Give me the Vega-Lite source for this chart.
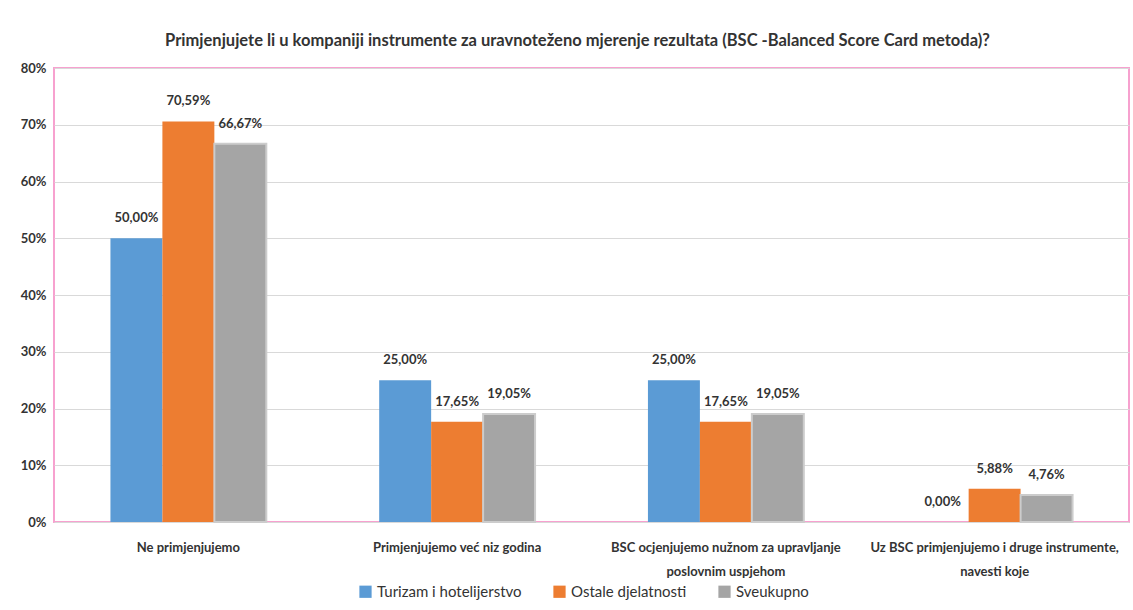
{
  "$schema": "https://vega.github.io/schema/vega-lite/v6.json",
  "width": 1075,
  "height": 454,
  "padding": {"left": 20, "top": 32, "right": 5, "bottom": 5},
  "autosize": {"type": "pad"},
  "background": "white",
  "title": {
    "text": "Primjenjujete li u kompaniji instrumente za uravnoteženo mjerenje rezultata (BSC -Balanced Score Card metoda)?",
    "font": "Lato",
    "fontSize": 16.5,
    "fontWeight": "bold",
    "color": "#333333",
    "anchor": "middle",
    "dx": -14,
    "offset": 13
  },
  "data": {
    "values": [
      {"kategorija": "Ne primjenjujemo", "serija": "Turizam i hotelijerstvo", "udio": 0.5},
      {"kategorija": "Ne primjenjujemo", "serija": "Ostale djelatnosti", "udio": 0.7059},
      {"kategorija": "Ne primjenjujemo", "serija": "Sveukupno", "udio": 0.6667},
      {"kategorija": "Primjenjujemo već niz godina", "serija": "Turizam i hotelijerstvo", "udio": 0.25},
      {"kategorija": "Primjenjujemo već niz godina", "serija": "Ostale djelatnosti", "udio": 0.1765},
      {"kategorija": "Primjenjujemo već niz godina", "serija": "Sveukupno", "udio": 0.1905},
      {"kategorija": "BSC ocjenjujemo nužnom za upravljanje poslovnim uspjehom", "serija": "Turizam i hotelijerstvo", "udio": 0.25},
      {"kategorija": "BSC ocjenjujemo nužnom za upravljanje poslovnim uspjehom", "serija": "Ostale djelatnosti", "udio": 0.1765},
      {"kategorija": "BSC ocjenjujemo nužnom za upravljanje poslovnim uspjehom", "serija": "Sveukupno", "udio": 0.1905},
      {"kategorija": "Uz BSC primjenjujemo i druge instrumente, navesti koje", "serija": "Turizam i hotelijerstvo", "udio": 0},
      {"kategorija": "Uz BSC primjenjujemo i druge instrumente, navesti koje", "serija": "Ostale djelatnosti", "udio": 0.0588},
      {"kategorija": "Uz BSC primjenjujemo i druge instrumente, navesti koje", "serija": "Sveukupno", "udio": 0.0476}
    ]
  },
  "encoding": {
    "x": {
      "field": "kategorija",
      "type": "nominal",
      "sort": null,
      "title": null,
      "scale": {"paddingInner": 0.42, "paddingOuter": 0.21},
      "axis": {
        "labelAngle": 0,
        "labelFont": "Lato",
        "labelFontSize": 13,
        "labelFontWeight": "bold",
        "labelColor": "#333333",
        "labelPadding": 19,
        "labelLineHeight": 24,
        "labelLimit": 500,
        "ticks": false,
        "domain": false,
        "labelExpr": "datum.value == 'BSC ocjenjujemo nužnom za upravljanje poslovnim uspjehom' ? ['BSC ocjenjujemo nužnom za upravljanje', 'poslovnim uspjehom'] : datum.value == 'Uz BSC primjenjujemo i druge instrumente, navesti koje' ? ['Uz BSC primjenjujemo i druge instrumente,', 'navesti koje'] : datum.value"
      }
    },
    "xOffset": {"field": "serija", "type": "nominal", "sort": ["Turizam i hotelijerstvo", "Ostale djelatnosti", "Sveukupno"]},
    "y": {
      "field": "udio",
      "type": "quantitative",
      "title": null,
      "scale": {"domain": [0, 0.8], "nice": false},
      "axis": {
        "format": ".0%",
        "values": [0, 0.1, 0.2, 0.3, 0.4, 0.5, 0.6, 0.7, 0.8],
        "labelOverlap": false,
        "labelFont": "Lato",
        "labelFontSize": 13,
        "labelFontWeight": "bold",
        "labelColor": "#333333",
        "labelPadding": 8,
        "ticks": false,
        "domain": false,
        "gridColor": "#d9d9d9",
        "gridWidth": 1
      }
    }
  },
  "layer": [
    {
      "mark": {"type": "bar", "strokeWidth": 2},
      "encoding": {
        "color": {
          "field": "serija",
          "type": "nominal",
          "sort": ["Turizam i hotelijerstvo", "Ostale djelatnosti", "Sveukupno"],
          "scale": {"domain": ["Turizam i hotelijerstvo", "Ostale djelatnosti", "Sveukupno"], "range": ["#5b9bd5", "#ed7d31", "#a5a5a5"]},
          "title": null,
          "legend": {
            "orient": "none",
            "legendX": 304,
            "legendY": 516,
            "direction": "horizontal",
            "symbolType": "square",
            "symbolSize": 150,
            "symbolStrokeWidth": 0,
            "labelFont": "Lato",
            "labelFontSize": 15,
            "labelColor": "#333333",
            "columnPadding": 30
          }
        },
        "stroke": {
          "field": "serija",
          "type": "nominal",
          "scale": {"domain": ["Turizam i hotelijerstvo", "Ostale djelatnosti", "Sveukupno"], "range": ["transparent", "transparent", "#cccccc"]},
          "legend": null
        }
      }
    },
    {
      "mark": {"type": "text", "baseline": "middle", "dy": -20, "font": "Lato", "fontSize": 13, "fontWeight": "bold", "color": "#333333"},
      "encoding": {
        "text": {"field": "udio", "type": "quantitative", "format": ".2%"}
      }
    }
  ],
  "config": {
    "locale": {"number": {"decimal": ",", "thousands": ".", "grouping": [3], "currency": ["", " €"]}},
    "view": {"stroke": "#f7a1cf", "strokeWidth": 2}
  }
}
